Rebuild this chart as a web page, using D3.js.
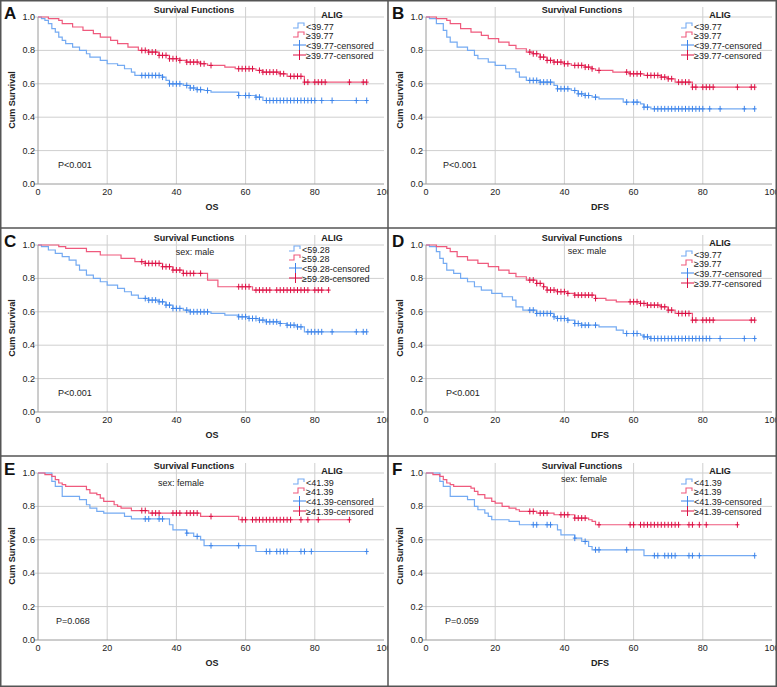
<!DOCTYPE html>
<html>
<head>
<meta charset="utf-8">
<script src="https://cdn.jsdelivr.net/npm/d3@7"></script>
<style>
  body { margin: 0; background: #fff; }
  svg { display: block; font-family: "Liberation Sans", Arial, sans-serif; }
</style>
</head>
<body>
<svg id="chart" width="777" height="687"></svg>
<script>
// panel texts
var panelLabels = ["A", "B", "C", "D", "E", "F"];
var xTitles = ["OS", "DFS", "OS", "DFS", "OS", "DFS"];
var subTitles = ["", "", "sex: male", "sex: male", "sex: female", "sex: female"];
var cutoffs = ["39.77", "39.77", "59.28", "39.77", "41.39", "41.39"];
var pTexts = ["P<0.001", "P<0.001", "P<0.001", "P<0.001", "P=0.068", "P=0.059"];
var xTicks = [0, 20, 40, 60, 80, 100];
var yTicks = [0.0, 0.2, 0.4, 0.6, 0.8, 1.0];

// step points [time, cum survival] and censored times
var aLowSteps = [[1,0.99],[2,0.98],[3,0.96],[4,0.93],[5,0.91],[6,0.88],[7,0.86],[8,0.84],[10,0.82],[12,0.80],[14,0.78],[15,0.76],[18,0.74],[20,0.72],[23,0.71],[25,0.69],[27,0.67],[28,0.65],[36,0.64],[37,0.62],[38,0.60],[42,0.59],[44,0.575],[46,0.565],[48,0.56],[50,0.55],[58,0.53],[63,0.52],[65,0.50]];
var aLowCens = [30,31,32,33,34,35,36,38,39,40,41,43,44,45,46,47,49,58,60,61,63,64,66,67,68,69,70,71,72,73,74,75,76,77,78,79,80,82,85,92,95];
var aHighSteps = [[3,0.99],[6,0.98],[7,0.96],[10,0.94],[13,0.92],[16,0.90],[18,0.88],[21,0.86],[23,0.84],[26,0.82],[29,0.80],[32,0.79],[35,0.77],[38,0.75],[41,0.74],[43,0.73],[47,0.72],[49,0.71],[54,0.70],[57,0.69],[63,0.68],[65,0.67],[70,0.66],[72,0.645],[77,0.61]];
var aHighCens = [30,31,32,33,34,35,36,37,38,39,40,41,43,44,45,46,47,48,50,58,59,60,61,62,64,65,66,67,68,69,70,71,73,74,75,76,77,78,80,81,82,83,90,94,95];

var bLowSteps = [[1,0.99],[3,0.96],[5,0.92],[6,0.88],[7,0.85],[9,0.82],[12,0.80],[14,0.77],[15,0.75],[18,0.73],[20,0.71],[23,0.69],[26,0.67],[27,0.64],[29,0.62],[33,0.61],[37,0.59],[38,0.57],[42,0.56],[44,0.54],[46,0.53],[48,0.52],[50,0.51],[57,0.49],[62,0.48],[63,0.46],[65,0.45]];
var bLowCens = [30,31,32,33,34,35,36,38,39,40,41,43,44,45,46,47,49,58,60,61,63,64,66,67,68,69,70,71,72,73,74,75,76,77,78,79,80,82,85,92,95];
var bHighSteps = [[3,0.99],[6,0.98],[7,0.96],[10,0.93],[13,0.91],[16,0.89],[18,0.87],[21,0.85],[24,0.83],[26,0.81],[29,0.79],[31,0.78],[33,0.76],[35,0.74],[37,0.73],[40,0.72],[42,0.71],[46,0.70],[48,0.69],[49,0.68],[54,0.67],[59,0.66],[63,0.65],[68,0.64],[70,0.63],[72,0.61],[77,0.58]];
var bHighCens = [30,31,32,33,34,35,36,37,38,39,40,41,43,44,45,46,47,48,50,58,59,60,61,62,64,65,66,67,68,69,70,71,73,74,75,76,77,78,80,81,82,83,90,94,95];

var cLowSteps = [[1,0.99],[3,0.97],[5,0.95],[7,0.93],[9,0.91],[11,0.88],[12,0.85],[14,0.82],[16,0.80],[18,0.78],[20,0.76],[23,0.74],[25,0.72],[27,0.70],[29,0.68],[32,0.67],[35,0.66],[37,0.64],[39,0.62],[42,0.61],[44,0.60],[50,0.59],[54,0.58],[58,0.57],[61,0.56],[64,0.55],[66,0.54],[70,0.53],[72,0.52],[75,0.51],[77,0.48]];
var cLowCens = [31,32,33,34,35,36,37,38,39,40,41,43,44,45,46,47,48,49,58,59,60,61,62,63,64,65,66,67,68,69,70,72,73,74,75,76,78,79,80,81,82,85,92,94,95];
var cHighSteps = [[6,0.99],[8,0.98],[14,0.96],[18,0.94],[24,0.92],[28,0.90],[31,0.89],[36,0.87],[39,0.85],[42,0.83],[49,0.79],[52,0.75],[62,0.73]];
var cHighCens = [30,31,32,33,34,35,36,37,38,39,40,41,42,43,44,45,47,58,59,60,61,63,64,65,66,67,69,70,71,72,73,74,75,76,77,78,80,81,82,84];

var dLowSteps = [[1,0.99],[3,0.96],[4,0.92],[5,0.89],[6,0.85],[8,0.83],[10,0.80],[12,0.78],[14,0.75],[16,0.73],[19,0.71],[22,0.69],[25,0.67],[26,0.63],[28,0.61],[32,0.59],[37,0.57],[38,0.56],[41,0.55],[43,0.53],[45,0.52],[50,0.51],[55,0.49],[57,0.47],[62,0.46],[63,0.45],[65,0.44]];
var dLowCens = [30,31,32,33,34,35,36,37,38,39,40,41,43,44,45,46,47,49,58,60,61,63,64,65,66,67,68,69,70,71,72,73,74,75,76,77,78,79,80,81,82,85,92,95];
var dHighSteps = [[3,0.99],[6,0.98],[7,0.96],[9,0.93],[12,0.91],[15,0.89],[18,0.87],[21,0.85],[24,0.83],[26,0.81],[29,0.79],[32,0.77],[34,0.75],[35,0.73],[38,0.72],[41,0.71],[43,0.70],[49,0.68],[52,0.67],[55,0.66],[62,0.65],[64,0.64],[68,0.63],[70,0.61],[72,0.59],[77,0.55]];
var dHighCens = [30,31,32,33,34,35,36,37,38,39,40,41,43,44,45,46,47,48,49,59,60,61,62,63,64,65,66,67,68,69,70,71,73,74,75,76,77,78,80,81,82,83,94,95];

var eLowSteps = [[4,0.95],[5,0.92],[7,0.86],[12,0.84],[14,0.81],[15,0.79],[17,0.77],[19,0.76],[25,0.74],[27,0.725],[38,0.69],[39,0.66],[43,0.64],[45,0.62],[47,0.60],[48,0.565],[63,0.53]];
var eLowCens = [31,32,35,36,43,46,50,58,66,67,69,70,71,72,76,77,79,95];
var eHighSteps = [[2,0.99],[4,0.98],[5,0.96],[6,0.94],[7,0.93],[8,0.92],[14,0.90],[15,0.88],[17,0.87],[18,0.85],[19,0.83],[22,0.81],[23,0.80],[24,0.79],[27,0.775],[32,0.76],[47,0.74],[58,0.72]];
var eHighCens = [30,31,33,34,35,39,40,41,43,44,45,46,50,59,60,62,63,64,65,66,67,68,69,70,71,72,73,76,78,81,90];

var fLowSteps = [[4,0.95],[5,0.92],[7,0.86],[12,0.84],[14,0.80],[15,0.78],[17,0.76],[18,0.74],[19,0.72],[24,0.71],[27,0.69],[38,0.66],[39,0.63],[43,0.61],[45,0.59],[47,0.56],[48,0.54],[63,0.505]];
var fLowCens = [31,32,35,36,43,46,49,50,58,66,67,69,70,71,72,76,77,79,95];
var fHighSteps = [[2,0.99],[4,0.98],[5,0.96],[6,0.94],[7,0.93],[8,0.92],[13,0.91],[14,0.89],[15,0.87],[17,0.85],[19,0.83],[20,0.82],[22,0.80],[24,0.79],[26,0.78],[27,0.77],[32,0.76],[37,0.75],[43,0.73],[47,0.72],[48,0.71],[49,0.69]];
var fHighCens = [30,31,33,34,35,39,40,41,43,44,45,46,50,59,60,62,63,64,65,66,67,68,69,70,71,72,73,76,77,79,81,90];

var lowSteps = [aLowSteps, bLowSteps, cLowSteps, dLowSteps, eLowSteps, fLowSteps];
var lowCens = [aLowCens, bLowCens, cLowCens, dLowCens, eLowCens, fLowCens];
var highSteps = [aHighSteps, bHighSteps, cHighSteps, dHighSteps, eHighSteps, fHighSteps];
var highCens = [aHighCens, bHighCens, cHighCens, dHighCens, eHighCens, fHighCens];

// layout bits that differ from panel to panel
var legendTop = [14, 14, 9, 14, 14, 14];
var legendLeft = [306, 306, 302, 306, 306, 306];
var subPos = [null, null, [195, 27], [199, 26], [181, 30], [196, 26]];
var pLeft = [58, 55, 58, 58, 56, 57];

var blueLine = "#74aaf2", blueMark = "#3d84ea";
var redLine = "#ef5a7d", redMark = "#dc1044";
var textCol = "#222";
var fs = 9;

var svg = d3.select("#chart");
var panelW = 388, panelH = 228;

var x = d3.scaleLinear().domain([0, 100]).range([38, 384]);
var y = d3.scaleLinear().domain([0, 1]).range([184, 17]);

// KM value at time t from step list
function survAt(steps, t) {
  var s = 1;
  steps.forEach(function(p) { if (p[0] <= t) s = p[1]; });
  return s;
}

var stepLine = d3.line()
  .x(function(d) { return x(d[0]); })
  .y(function(d) { return y(d[1]); })
  .curve(d3.curveStepAfter);

function drawCurve(g, steps, cens, lineCol, markCol) {
  var end = Math.max(d3.max(cens), steps[steps.length - 1][0]);
  var pts = [[0, 1]].concat(steps).concat([[end, steps[steps.length - 1][1]]]);
  g.append("path")
    .attr("d", stepLine(pts))
    .attr("fill", "none")
    .attr("stroke", lineCol)
    .attr("stroke-width", 1.2);
  var m = g.append("g").selectAll("g").data(cens).enter().append("g")
    .attr("transform", function(t) { return "translate(" + x(t) + "," + y(survAt(steps, t)) + ")"; });
  m.append("line").attr("x1", 0).attr("x2", 0).attr("y1", -3).attr("y2", 3)
    .attr("stroke", markCol).attr("stroke-width", 1);
  m.append("line").attr("x1", -2).attr("x2", 2).attr("y1", 0).attr("y2", 0)
    .attr("stroke", markCol).attr("stroke-width", 1);
}

panelLabels.forEach(function(lab, i) {
  var col = i % 2, row = Math.floor(i / 2);
  var ox = col * panelW, oy = row * panelH;
  var w = col == 1 ? 389 : panelW;
  var h = row == 2 ? 231 : panelH;

  svg.append("clipPath").attr("id", "clip" + i)
    .append("rect").attr("width", w).attr("height", h);

  var g = svg.append("g")
    .attr("transform", "translate(" + ox + "," + oy + ")")
    .attr("clip-path", "url(#clip" + i + ")");

  // grid
  g.append("g").selectAll("line").data(yTicks.slice(1)).enter().append("line")
    .attr("x1", x(0) - 4).attr("x2", x(100))
    .attr("y1", function(d) { return y(d); }).attr("y2", function(d) { return y(d); })
    .attr("stroke", "#cfcfcf").attr("stroke-width", 1);
  g.append("g").selectAll("line").data(xTicks.slice(1, 5)).enter().append("line")
    .attr("x1", function(d) { return x(d); }).attr("x2", function(d) { return x(d); })
    .attr("y1", 7).attr("y2", y(0))
    .attr("stroke", "#cfcfcf").attr("stroke-width", 1);

  // axes
  g.append("line").attr("x1", x(0)).attr("x2", x(0)).attr("y1", y(1)).attr("y2", y(0))
    .attr("stroke", "#9a9a9a");
  g.append("line").attr("x1", x(0) - 4).attr("x2", x(100)).attr("y1", y(0)).attr("y2", y(0))
    .attr("stroke", "#9a9a9a");

  g.append("g").selectAll("text").data(yTicks).enter().append("text")
    .attr("x", x(0) - 3).attr("y", function(d) { return y(d) + 3; })
    .attr("text-anchor", "end").attr("font-size", fs).attr("fill", textCol)
    .text(function(d) { return d3.format(".1f")(d); });
  g.append("g").selectAll("text").data(xTicks).enter().append("text")
    .attr("x", function(d) { return x(d); }).attr("y", 195)
    .attr("text-anchor", "middle").attr("font-size", fs).attr("fill", textCol)
    .text(function(d) { return d; });

  g.append("text").attr("x", 212).attr("y", 210)
    .attr("text-anchor", "middle").attr("font-size", fs).attr("font-weight", "bold").attr("fill", textCol)
    .text(xTitles[i]);
  g.append("text").attr("transform", "translate(15,100) rotate(-90)")
    .attr("text-anchor", "middle").attr("font-size", fs).attr("font-weight", "bold").attr("fill", textCol)
    .text("Cum Survival");

  g.append("text").attr("x", 194).attr("y", 13)
    .attr("text-anchor", "middle").attr("font-size", fs).attr("font-weight", "bold").attr("fill", textCol)
    .text("Survival Functions");
  if (subTitles[i]) {
    g.append("text").attr("x", subPos[i][0]).attr("y", subPos[i][1])
      .attr("text-anchor", "middle").attr("font-size", fs).attr("fill", textCol)
      .text(subTitles[i]);
  }
  g.append("text").attr("x", pLeft[i]).attr("y", 168)
    .attr("font-size", fs).attr("fill", textCol)
    .text(pTexts[i]);

  // curves
  drawCurve(g, lowSteps[i], lowCens[i], blueLine, blueMark);
  drawCurve(g, highSteps[i], highCens[i], redLine, redMark);

  // legend
  var lt = legendTop[i], ll = legendLeft[i];
  g.append("text").attr("x", 332).attr("y", lt + 3.5)
    .attr("text-anchor", "middle").attr("font-size", fs).attr("font-weight", "bold").attr("fill", textCol)
    .text("ALIG");
  var entries = [
    { name: "<" + cutoffs[i], col: blueLine, step: true },
    { name: "\u2265" + cutoffs[i], col: redLine, step: true },
    { name: "<" + cutoffs[i] + "-censored", col: blueMark, step: false },
    { name: "\u2265" + cutoffs[i] + "-censored", col: redMark, step: false }
  ];
  var rowY = [12, 21, 31, 41];
  entries.forEach(function(e, k) {
    var cy = lt + rowY[k];
    if (e.step) {
      g.append("path")
        .attr("d", "M" + (ll - 13) + "," + (cy + 2) + "h5v-5h6v3")
        .attr("fill", "none").attr("stroke", e.col).attr("stroke-width", 1.1);
    } else {
      g.append("line").attr("x1", ll - 13).attr("x2", ll).attr("y1", cy).attr("y2", cy)
        .attr("stroke", e.col);
      g.append("line").attr("x1", ll - 6.5).attr("x2", ll - 6.5).attr("y1", cy - 5).attr("y2", cy + 5)
        .attr("stroke", e.col);
    }
    g.append("text").attr("x", ll).attr("y", cy + 3.5)
      .attr("font-size", fs).attr("fill", textCol)
      .text(e.name);
  });

  // panel letter
  g.append("text").attr("x", 4).attr("y", 19)
    .attr("font-size", 17).attr("font-weight", "bold").attr("fill", "#111")
    .text(lab);
});

// frame and dividers
svg.append("rect").attr("x", 0.75).attr("y", 0.75).attr("width", 775.5).attr("height", 685.5)
  .attr("fill", "none").attr("stroke", "#555").attr("stroke-width", 1.5);
svg.append("line").attr("x1", 388).attr("x2", 388).attr("y1", 0).attr("y2", 687)
  .attr("stroke", "#555").attr("stroke-width", 1.5);
[228, 456].forEach(function(yy) {
  svg.append("line").attr("x1", 0).attr("x2", 777).attr("y1", yy).attr("y2", yy)
    .attr("stroke", "#555").attr("stroke-width", 1.5);
});
</script>
</body>
</html>
